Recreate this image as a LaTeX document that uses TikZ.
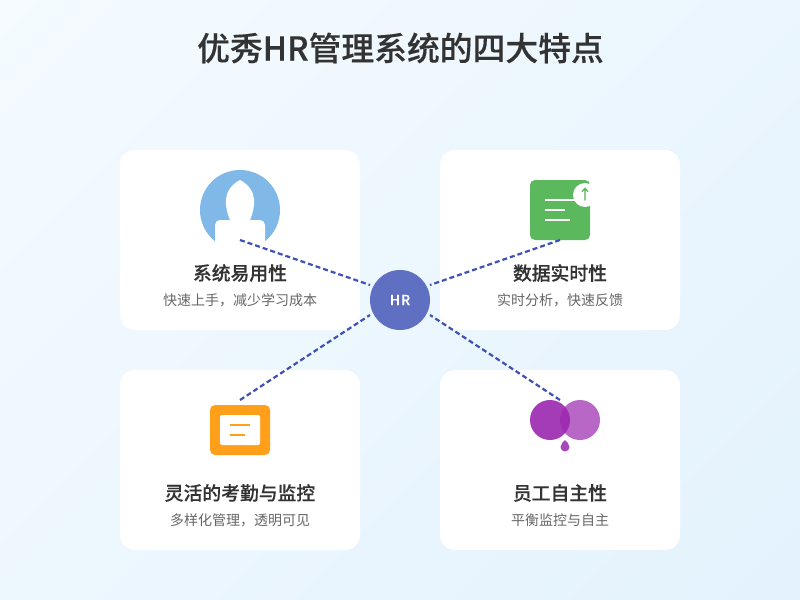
\documentclass[tikz,border=0pt]{standalone}
\usetikzlibrary{shadings}
\usepackage{fontspec}
\setmainfont{Noto Sans CJK SC}
\newfontfamily\medfont[FakeBold=0.2]{Noto Sans CJK SC Medium}
\newfontfamily\medhub[LetterSpace=6,FakeBold=0.2]{Noto Sans CJK SC Medium}
\definecolor{bgA}{HTML}{F5FBFF}
\definecolor{bgB}{HTML}{E3F2FD}
\definecolor{lnk}{HTML}{3F51B5}
\definecolor{hub}{HTML}{5F70C3}
\definecolor{tt}{HTML}{333333}
\definecolor{st}{HTML}{666666}
\definecolor{blu}{HTML}{80B9E8}
\definecolor{grn}{HTML}{5CB85C}
\definecolor{org}{HTML}{FF9F1A}
\definecolor{pur}{HTML}{9C27B0}
\tikzset{
  x=0.75pt,y=-0.75pt,
  card/.style={fill=white,draw=none,rounded corners=11.25pt},
  ctitle/.style={font=\medfont\fontsize{14.1pt}{16pt}\selectfont,text=tt,inner sep=0,anchor=center},
  csub/.style={font=\fontsize{10.5pt}{13pt}\selectfont,text=st,inner sep=0,anchor=center},
  link/.style={draw=lnk,line width=1.65pt,dash pattern=on 3.75pt off 2.25pt},
  wline/.style={draw=white,line width=1.5pt},
  oline/.style={draw=org,line width=1.5pt}
}
\begin{document}
\begin{tikzpicture}
\useasboundingbox (0,0) rectangle (800,600);
\shade[shading=bilinear interpolation,upper left=bgA,lower right=bgB,upper right=bgA!43!bgB,lower left=bgA!57!bgB] (0,0) rectangle (800,600);
\node[inner sep=0,font=\medfont\fontsize{24.6pt}{28pt}\selectfont,text=tt] (title) at (400.5,48) {优秀HR管理系统的四大特点};
\fill[card] (120,150) rectangle (360,330);
\fill[card] (440,150) rectangle (680,330);
\fill[card] (120,370) rectangle (360,550);
\fill[card] (440,370) rectangle (680,550);
% icon 1
\fill[blu] (240,210) circle[radius=40];
\fill[white] (240,180) .. controls (221,190) and (225,208) .. (230,220) -- (250,220) .. controls (255,208) and (259,190) .. (240,180) -- cycle;
\fill[white,rounded corners=3.75pt] (215,220) rectangle (265,255);
% icon 2
\fill[grn,rounded corners=3.75pt] (530,180) rectangle (590,240);
\draw[wline] (545,200) -- (575,200);
\draw[wline] (545,210) -- (565,210);
\draw[wline] (545,220) -- (570,220);
\fill[white] (585,195) circle[radius=12];
\node[inner sep=0,text=grn,font=\medfont\fontsize{10.5pt}{12pt}\selectfont] (up) at (585,194) {↑};
% icon 3
\fill[org,rounded corners=3.75pt] (210,405) rectangle (270,455);
\fill[white,rounded corners=1.5pt] (220,415) rectangle (260,445);
\draw[oline] (230,425) -- (250,425);
\draw[oline] (230,435) -- (245,435);
% icon 4
\fill[pur,opacity=.9] (550,420) circle[radius=20];
\fill[pur,opacity=.7] (580,420) circle[radius=20];
\fill[pur,opacity=.85] (565,440) .. controls (563.5,441.5) and (560.5,444) .. (560.5,447) arc[start angle=180,end angle=0,radius=4.5] .. controls (569.5,444) and (566.5,441.5) .. (565,440) -- cycle;
% connectors
\node[circle,fill=hub,minimum size=45pt,inner sep=0,text=white,font=\medhub\fontsize{10.5pt}{12pt}\selectfont] (hub) at (400,300) {HR};
\coordinate (a1) at (240,240); \coordinate (h1) at (370,285);
\coordinate (a2) at (560,240); \coordinate (h2) at (430,285);
\coordinate (a3) at (240,400); \coordinate (h3) at (370,315);
\coordinate (a4) at (560,400); \coordinate (h4) at (430,315);
\draw[link] (a1) -- (h1);
\draw[link] (a2) -- (h2);
\draw[link] (a3) -- (h3);
\draw[link] (a4) -- (h4);
% text
\node[ctitle] (t1) at (240,273) {系统易用性};
\node[csub] (s1) at (240,300) {快速上手，减少学习成本};
\node[ctitle] (t2) at (560,273) {数据实时性};
\node[csub] (s2) at (560,300) {实时分析，快速反馈};
\node[ctitle] (t3) at (240,493) {灵活的考勤与监控};
\node[csub] (s3) at (240,520) {多样化管理，透明可见};
\node[ctitle] (t4) at (560,493) {员工自主性};
\node[csub] (s4) at (560,520) {平衡监控与自主};
\end{tikzpicture}
\end{document}
